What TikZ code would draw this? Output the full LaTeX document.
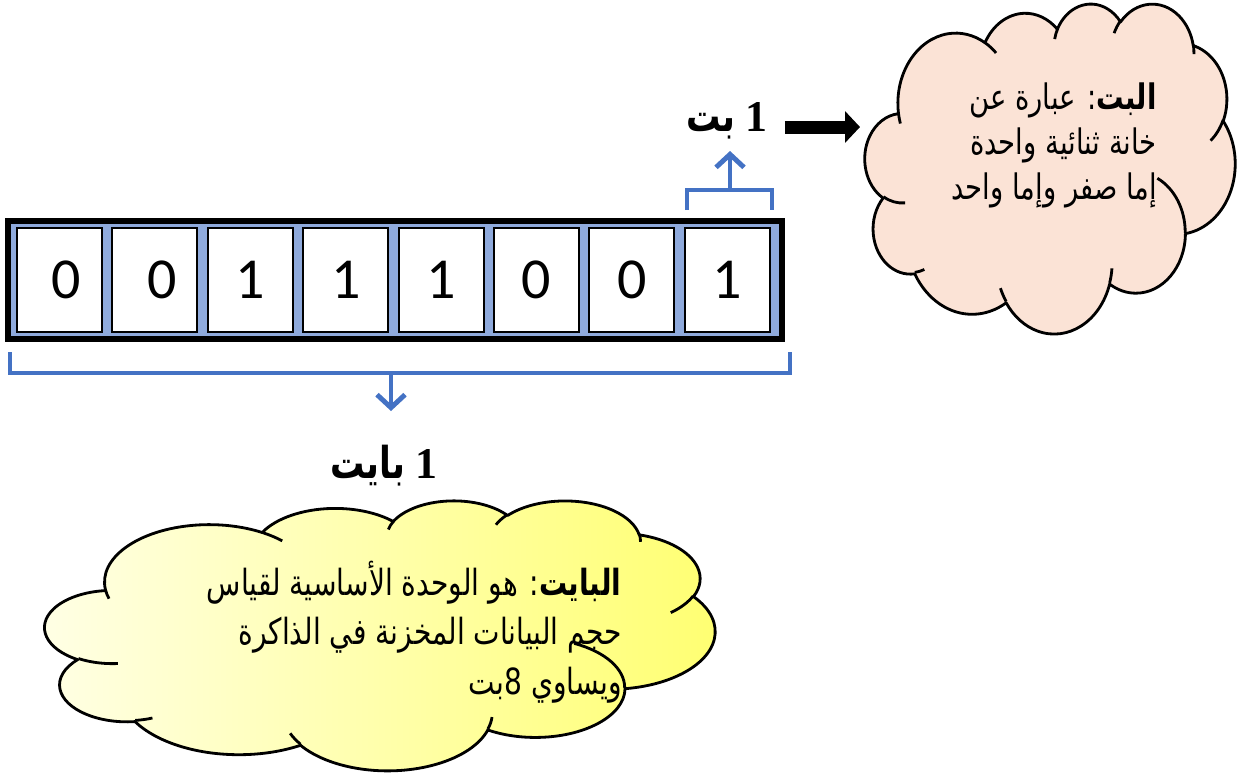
\documentclass[tikz,border=0pt]{standalone}
\usepackage{fontspec}
\setmainfont{Carlito}
\newfontfamily\arabicfont[Script=Arabic, FakeStretch=0.78]{DejaVu Sans}
\newfontfamily\timesfont{Liberation Serif}
\TeXXeTstate=1
\usetikzlibrary{arrows.meta,positioning}

\definecolor{bracketblue}{HTML}{4472C4}
\definecolor{framefill}{HTML}{8FAADC}
\definecolor{peach}{HTML}{FBE3D6}
\definecolor{paleyellow}{HTML}{FFFFE6}
\definecolor{richyellow}{HTML}{FFFF70}

% one lobe of the cloud: x radius, y radius, start angle, sweep (seen angles)
\newcommand\lobe[4]{arc[x radius=#1, y radius=#2, start angle={eang(#3,#1,#2)},
  delta angle={esweep(#3,#4,#1,#2)}]}
\newcommand\cloudrim{(39,143.7)
  \lobe{67.53}{91.90}{-190.4875}{123.7805} \lobe{53.33}{72.67}{-144.1024}{89.9452}
  \lobe{43.65}{59.45}{-145.8079}{99.7230} \lobe{48.57}{65.95}{-130.9861}{117.2417}
  \lobe{53.33}{72.73}{-78.7089}{109.0269} \lobe{67.75}{92.20}{-46.2673}{130.2690}
  \lobe{57.85}{78.67}{0.6250}{114.0333} \lobe{67.52}{92.15}{22.4516}{115.1726}
  \lobe{77.20}{105.43}{66.2426}{75.7110} \lobe{43.60}{59.18}{-274.9421}{146.7356}
  \lobe{43.45}{59.45}{-246.8285}{152.5189} -- cycle}
\newcommand\cloudcreases{
  (46.93,261.77) \lobe{43.45}{59.45}{86.7420}{26.4295}
  (69.28,348.99) \lobe{43.60}{59.18}{73.6105}{11.4475}
  (164.78,390.90) \lobe{67.52}{92.15}{137.6242}{14.0811}
  (288.27,347.51) \lobe{67.52}{92.15}{6.4533}{15.9984}
  (341.29,229.54) \lobe{57.85}{78.67}{-70.2924}{70.9174}
  (417.98,153.54) \lobe{53.33}{72.73}{30.3180}{27.7515}
  (383.24,54.26) \lobe{48.57}{65.95}{-13.7443}{14.8589}
  (290.78,39.52) \lobe{48.57}{65.95}{-149.1815}{18.1954}
  (221.41,47.20) \lobe{43.65}{59.45}{-163.4943}{17.6864}
  (140.00,51.92) \lobe{67.53}{91.90}{-66.7070}{12.3194}
  (41.27,157.89) \lobe{67.53}{91.90}{157.6544}{11.8582}}

\tikzset{
  declare function={
    eang(\a,\w,\h)=atan2(\w*sin(\a),\h*cos(\a));
    esweep(\a,\s,\w,\h)=mod(eang(\a+\s,\w,\h)-eang(\a,\w,\h)+720,360);
  },
  bitcell/.style={draw=black, line width=1.1pt, fill=white, minimum width=1.7cm,
    minimum height=2.08cm, inner sep=0pt, font=\fontsize{33}{33}\selectfont},
  bracket/.style={draw=bracketblue, line width=2.8pt},
  pointer/.style={bracket, -{Straight Barb[length=0.26cm, width=0.56cm]}},
  fatarrow/.style={line width=7.4pt, -{Triangle[length=0.3cm, width=0.62cm]}},
  title/.style={font=\fontsize{25}{28}\selectfont\bfseries, inner sep=0pt},
  note/.style={align=right, inner sep=0pt, text=black},
  rim/.style={draw=black, line width=1.6pt, line join=round},
}

\begin{document}
\begin{tikzpicture}[x=0.02cm, y=-0.02cm]
  \useasboundingbox (0,0) rectangle (1239,778);

  % Byte frame and its eight bits
  \node[draw=black, line width=3.4pt, fill=framefill, minimum width=15.48cm,
    minimum height=2.36cm, inner sep=0pt] (byte) at (395,280) {};
  \foreach \bit/\dx/\dy [count=\i] in {0/0.28/0,0/0.28/0,1/0/0,1/0/0,1/0/0.12,0/0/0,0/0/0,1/0/0}
    \node[bitcell] (cell\i) at ({59.5+95.4*(\i-1)}, 280)
      {\raisebox{\dimexpr\dy cm-0.14cm\relax}{\kern\dx cm\bit}};

  % Bracket round the last bit
  \draw[bracket] (687,210) -- (687,190) -- (772,190) -- (772,210);
  \coordinate (bitmid) at (730,190);
  \coordinate (bittip) at (730,151);
  \draw[pointer] (bitmid) -- (bittip);
  \node[title, anchor=center] (bitlabel) at (727,121)
    {\beginR{\timesfont 1} {\arabicfont بت}\endR};

  % Bracket round the whole byte
  \draw[bracket] (10,352) -- (10,373) -- (790,373) -- (790,352);
  \coordinate (bytemid) at (391,373);
  \coordinate (bytetip) at (391,411);
  \draw[pointer] (bytemid) -- (bytetip);
  \node[title, anchor=center] (bytelabel) at (384,466)
    {\beginR{\timesfont 1} {\arabicfont بايت}\endR};

  % Cloud for the bit
  \begin{scope}[shift={(865,3)}, x=0.017130cm, y=-0.015278cm]
    \draw[rim, fill=peach] \cloudrim;
    \draw[rim] \cloudcreases;
  \end{scope}
  \coordinate (bitarrow) at (860,127);
  \draw[fatarrow, shorten <=0.34cm] (bitlabel.east |- bitarrow) -- (bitarrow);
  \node[note, anchor=north east, font=\arabicfont\fontsize{20}{25.8}\selectfont] (bitnote) at (1157,82)
    {\beginR{\bfseries البت}: عبارة عن\endR\\
     \beginR خانة ثنائية واحدة\endR\\
     \beginR إما صفر وإما واحد\endR};

  % Cloud for the byte
  \begin{scope}[shift={(45,500)}, x=0.031019cm, y=-0.0125cm]
    \draw[rim, left color=paleyellow, right color=richyellow] \cloudrim;
    \draw[rim] \cloudcreases;
  \end{scope}
  \node[note, anchor=north east, font=\arabicfont\fontsize{20.5}{28}\selectfont] (bytenote) at (622,561)
    {\beginR{\bfseries البايت}: هو الوحدة الأساسية لقياس\endR\\
     \beginR حجم البيانات المخزنة في الذاكرة\endR\\
     \beginR ويساوي 8بت\endR};
\end{tikzpicture}
\end{document}
